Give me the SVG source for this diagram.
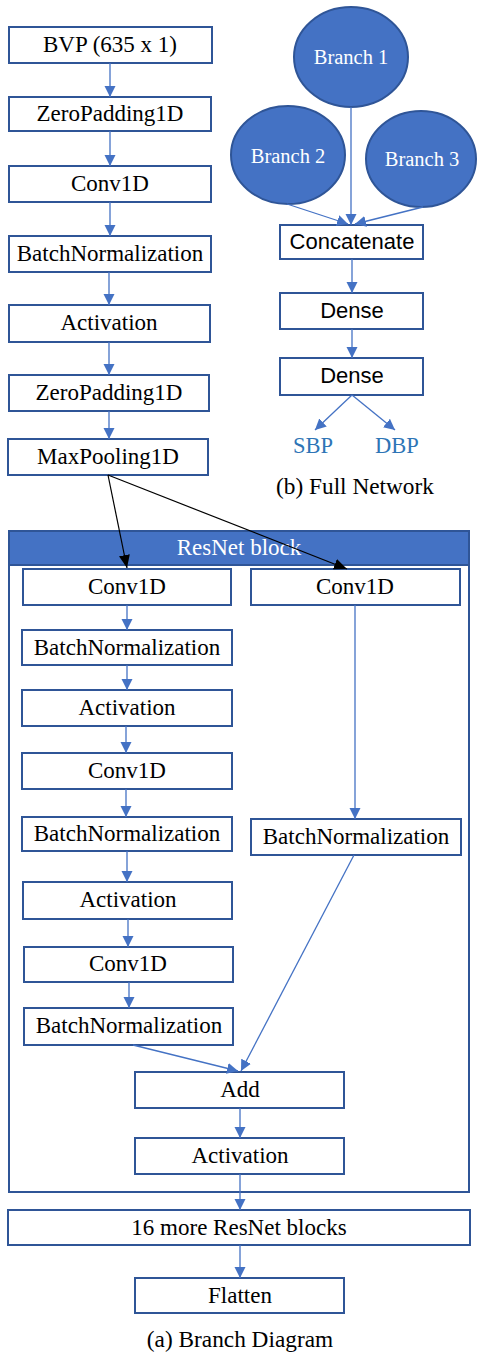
<svg xmlns="http://www.w3.org/2000/svg" width="477" height="1353" viewBox="0 0 477 1353">
<style>
.box{fill:#fff;stroke:#2F5597;stroke-width:2}
.t{font-family:"Liberation Serif","Times New Roman",serif;font-size:23px;fill:#000;text-anchor:middle}
.s{font-family:"Liberation Sans",Arial,sans-serif;font-size:22px;fill:#000;text-anchor:middle}
.w{fill:#fff}
.ell{fill:#4472C4;stroke:#2F5597;stroke-width:2}
.c{stroke:#4472C4;stroke-width:1.3;fill:none;marker-end:url(#ah)}
.k{stroke:#000;stroke-width:1.2;fill:none;marker-end:url(#ak)}
.lbl{font-family:"Liberation Serif","Times New Roman",serif;font-size:22.5px;fill:#2E75B6;text-anchor:middle}
.cap{font-family:"Liberation Serif","Times New Roman",serif;font-size:23.3px;fill:#000;text-anchor:middle}
</style>
<defs>
<marker id="ah" markerUnits="userSpaceOnUse" markerWidth="12" markerHeight="12" refX="11" refY="6" orient="auto" viewBox="0 0 12 12"><path d="M0,0.5 L11,6 L0,11.5 z" fill="#4472C4"/></marker>
<marker id="ak" markerUnits="userSpaceOnUse" markerWidth="14" markerHeight="12" refX="13" refY="6" orient="auto" viewBox="0 0 14 12"><path d="M0,0.5 L13,6 L0,11.5 z" fill="#000"/></marker>
</defs>
<rect width="477" height="1353" fill="#fff"/>
<g id="resnet-block">
<rect x="9" y="531" width="460" height="661" fill="#fff" stroke="#2F5597" stroke-width="2"/>
<rect x="9" y="531" width="460" height="34" fill="#4472C4" stroke="#2F5597" stroke-width="2"/>
<text class="t w" x="239" y="555">ResNet block</text>
</g>
<g id="bvp"><rect class="box" x="9" y="27" width="203" height="36"/><text class="t" x="110" y="52">BVP (635 x 1)</text></g>
<g id="zp1"><rect class="box" x="9" y="97" width="202" height="34"/><text class="t" x="110" y="121">ZeroPadding1D</text></g>
<g id="conv1"><rect class="box" x="9" y="166" width="202" height="36"/><text class="t" x="110" y="191">Conv1D</text></g>
<g id="bn1"><rect class="box" x="9" y="236" width="202" height="36"/><text class="t" x="110" y="261">BatchNormalization</text></g>
<g id="act1"><rect class="box" x="9" y="305" width="201" height="37"/><text class="t" x="109" y="330">Activation</text></g>
<g id="zp2"><rect class="box" x="9" y="375" width="200" height="36"/><text class="t" x="109" y="400">ZeroPadding1D</text></g>
<g id="maxpool"><rect class="box" x="8" y="439" width="200" height="36"/><text class="t" x="108" y="464">MaxPooling1D</text></g>

<g id="branch1"><ellipse class="ell" cx="351" cy="57" rx="57" ry="50"/><text class="t w" x="351" y="64" style="font-size:20.5px">Branch 1</text></g>
<g id="branch2"><ellipse class="ell" cx="288" cy="155" rx="57" ry="49"/><text class="t w" x="288" y="163" style="font-size:20.5px">Branch 2</text></g>
<g id="branch3"><ellipse class="ell" cx="421" cy="159" rx="55" ry="48"/><text class="t w" x="422" y="166" style="font-size:20.5px">Branch 3</text></g>
<g id="concat"><rect class="box" x="280" y="225" width="143" height="34"/><text class="s" x="352" y="249">Concatenate</text></g>
<g id="dense1"><rect class="box" x="280" y="293" width="143" height="36"/><text class="s" x="352" y="318">Dense</text></g>
<g id="dense2"><rect class="box" x="280" y="358" width="143" height="37"/><text class="s" x="352" y="383">Dense</text></g>
<g id="sbp"><text class="lbl" x="313" y="453">SBP</text></g>
<g id="dbp"><text class="lbl" x="397" y="453">DBP</text></g>
<text class="cap" x="355" y="494">(b) Full Network</text>

<g id="r-conv1"><rect class="box" x="23" y="569" width="208" height="36"/><text class="t" x="127" y="594">Conv1D</text></g>
<g id="r-conv-sc"><rect class="box" x="251" y="569" width="209" height="36"/><text class="t" x="355" y="594">Conv1D</text></g>
<g id="r-bn1"><rect class="box" x="22" y="630" width="210" height="35"/><text class="t" x="127" y="655">BatchNormalization</text></g>
<g id="r-act1"><rect class="box" x="22" y="690" width="210" height="36"/><text class="t" x="127" y="715">Activation</text></g>
<g id="r-conv2"><rect class="box" x="22" y="753" width="210" height="36"/><text class="t" x="127" y="778">Conv1D</text></g>
<g id="r-bn2"><rect class="box" x="22" y="817" width="210" height="34"/><text class="t" x="127" y="841">BatchNormalization</text></g>
<g id="r-bn-sc"><rect class="box" x="251" y="819" width="210" height="36"/><text class="t" x="356" y="844">BatchNormalization</text></g>
<g id="r-act2"><rect class="box" x="23" y="882" width="209" height="37"/><text class="t" x="128" y="907">Activation</text></g>
<g id="r-conv3"><rect class="box" x="24" y="947" width="209" height="35"/><text class="t" x="128" y="971">Conv1D</text></g>
<g id="r-bn3"><rect class="box" x="24" y="1008" width="209" height="37"/><text class="t" x="129" y="1033">BatchNormalization</text></g>
<g id="add"><rect class="box" x="135" y="1072" width="209" height="36"/><text class="t" x="240" y="1097">Add</text></g>
<g id="r-act3"><rect class="box" x="135" y="1138" width="209" height="36"/><text class="t" x="240" y="1163">Activation</text></g>
<g id="more"><rect class="box" x="8" y="1210" width="462" height="35"/><text class="t" x="239" y="1235">16 more ResNet blocks</text></g>
<g id="flatten"><rect class="box" x="135" y="1278" width="209" height="35"/><text class="t" x="240" y="1303">Flatten</text></g>
<text class="cap" x="240" y="1347">(a) Branch Diagram</text>

<g id="connectors">
<line class="c" x1="110" y1="63" x2="110" y2="97"/>
<line class="c" x1="110" y1="131" x2="110" y2="166"/>
<line class="c" x1="110" y1="202" x2="110" y2="236"/>
<line class="c" x1="109" y1="272" x2="109" y2="305"/>
<line class="c" x1="109" y1="342" x2="109" y2="375"/>
<line class="c" x1="109" y1="411" x2="109" y2="439"/>
<line class="k" x1="108" y1="475" x2="127" y2="568"/>
<line class="k" x1="108" y1="475" x2="347" y2="569"/>
<line class="c" x1="351" y1="107" x2="351" y2="225"/>
<line class="c" x1="287" y1="204" x2="348" y2="224"/>
<line class="c" x1="423" y1="207" x2="355" y2="224"/>
<line class="c" x1="352" y1="259" x2="352" y2="293"/>
<line class="c" x1="352" y1="329" x2="352" y2="358"/>
<line class="c" x1="352" y1="395" x2="315" y2="430"/>
<line class="c" x1="352" y1="395" x2="395" y2="430"/>
<line class="c" x1="127" y1="605" x2="127" y2="630"/>
<line class="c" x1="127" y1="665" x2="127" y2="690"/>
<line class="c" x1="126" y1="726" x2="126" y2="753"/>
<line class="c" x1="126" y1="789" x2="126" y2="817"/>
<line class="c" x1="127" y1="851" x2="127" y2="882"/>
<line class="c" x1="128" y1="919" x2="128" y2="947"/>
<line class="c" x1="129" y1="982" x2="129" y2="1008"/>
<line class="c" x1="355" y1="605" x2="355" y2="819"/>
<line class="c" x1="354" y1="855" x2="241" y2="1071"/>
<line class="c" x1="133" y1="1045" x2="238" y2="1071"/>
<line class="c" x1="240" y1="1108" x2="240" y2="1138"/>
<line class="c" x1="240" y1="1174" x2="240" y2="1210"/>
<line class="c" x1="240" y1="1245" x2="240" y2="1278"/>
</g>
</svg>
